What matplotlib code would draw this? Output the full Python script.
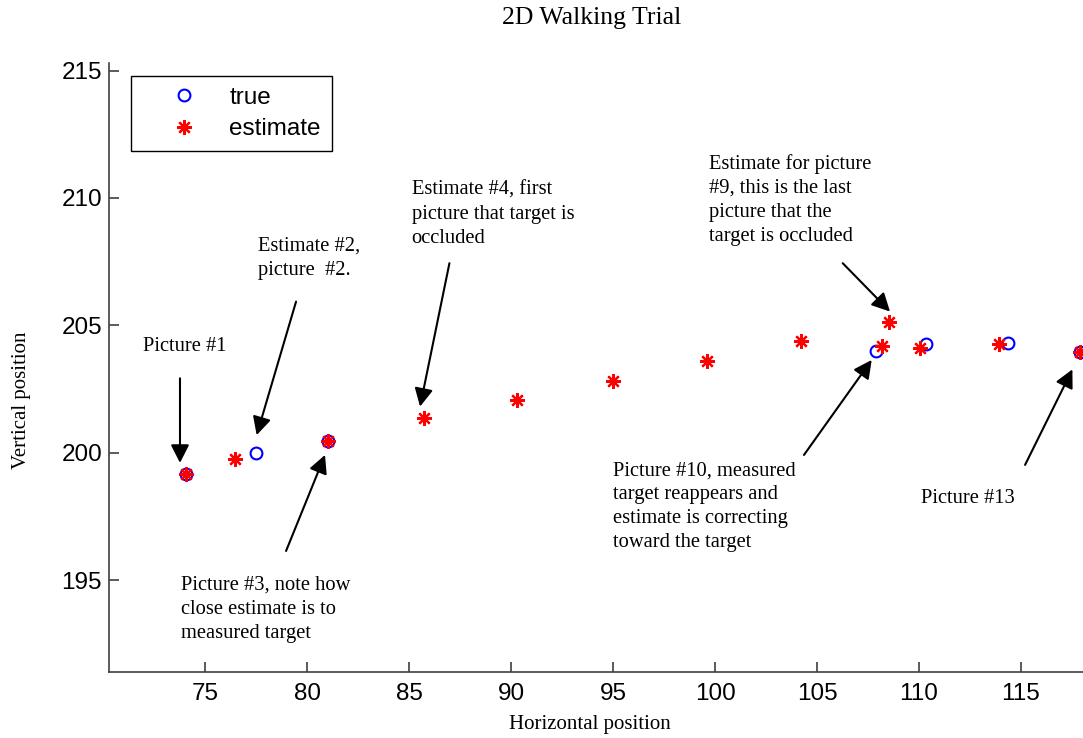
import matplotlib.pyplot as plt
import numpy as np

# measured target (only visible in pictures 1-3 and 10-13)
true_x = np.array([74.05, 77.5, 81.05, 107.9, 110.35, 114.35, 117.9])
true_y = np.array([199.15, 200.0, 200.45, 204.0, 204.25, 204.3, 203.95])

# filter estimate for every picture
est_x = np.array([74.05, 76.45, 81.05, 85.75, 90.3, 95.0, 99.6, 104.2,
                  108.55, 108.2, 110.05, 113.9, 117.9])
est_y = np.array([199.15, 199.75, 200.45, 201.35, 202.05, 202.8, 203.6, 204.4,
                  205.15, 204.2, 204.1, 204.25, 203.95])

xticks = [75, 80, 85, 90, 95, 100, 105, 110, 115]
yticks = [195, 200, 205, 210, 215]

# (text, text position, arrow tail, arrow tip)
notes = [
    ("Picture #1", (71.95, 204.54), (73.77, 202.92), (73.77, 199.60)),
    ("Estimate #2,\npicture  #2.", (77.61, 208.47), (79.46, 205.93), (77.53, 200.69)),
    ("Picture #3, note how\nclose estimate is to\nmeasured target", (73.81, 195.16),
     (78.97, 196.14), (80.88, 199.91)),
    ("Estimate #4, first\npicture that target is\noccluded", (85.13, 210.67),
     (86.98, 207.44), (85.54, 201.81)),
    ("Estimate for picture\n#9, this is the last\npicture that the\ntarget is occluded",
     (99.72, 211.73), (106.26, 207.44), (108.58, 205.54)),
    ("Picture #10, measured\ntarget reappears and\nestimate is correcting\ntoward the target",
     (95.01, 199.67), (104.36, 199.91), (107.68, 203.64)),
    ("Picture #13", (110.08, 198.57), (115.20, 199.52), (117.52, 203.27)),
]

serif = "Liberation Serif"
sans = "Liberation Sans"
spine_col = "#404040"

fig = plt.figure(figsize=(10.83, 7.38), dpi=100)
ax = fig.add_axes([109 / 1083, 66.3 / 738, 974 / 1083, 608.7 / 738])

ax.plot(true_x, true_y, linestyle="none", marker="o", markersize=8.5,
        markerfacecolor="none", markeredgecolor="#0000ff", markeredgewidth=1.5,
        label="true", clip_on=False)
ax.plot(est_x, est_y, linestyle="none", marker=(8, 2, 0), markersize=10.5,
        color="#ff0000", markeredgewidth=1.6, label="estimate", clip_on=False)

ax.set_xlim(70.29, 118.04)
ax.set_ylim(191.4, 215.3)
ax.set_xticks(xticks)
ax.set_yticks(yticks)

for side in ["top", "right"]:
    ax.spines[side].set_visible(False)
for side in ["left", "bottom"]:
    ax.spines[side].set_color(spine_col)
    ax.spines[side].set_linewidth(1.2)

ax.tick_params(axis="both", direction="in", length=7, width=1.2, color=spine_col,
               labelsize=17.5, labelcolor="black")
ax.tick_params(axis="x", pad=8)
ax.tick_params(axis="y", pad=5)
for lbl in ax.get_xticklabels() + ax.get_yticklabels():
    lbl.set_fontfamily(sans)

fig.text(591.7 / 1083, 1 - 18 / 738, "2D Walking Trial", family=serif,
         fontsize=18.5, ha="center", va="center")
fig.text(590 / 1083, 1 - 725 / 738, "Horizontal position", family=serif,
         fontsize=15, ha="center", va="center")
fig.text(22 / 1083, 1 - 400 / 738, "Vertical position", family=serif,
         fontsize=15, ha="center", va="center", rotation=90)

for txt, pos, tail, tip in notes:
    ax.text(pos[0], pos[1], txt, family=serif, fontsize=14.8, ha="left", va="top",
            linespacing=1.35)
    ax.annotate("", xy=tip, xytext=tail,
                arrowprops=dict(arrowstyle="-|>,head_length=0.55,head_width=0.28",
                                mutation_scale=20, color="black", lw=1.5,
                                shrinkA=0, shrinkB=0))

leg = ax.legend(loc="upper left", bbox_to_anchor=(130.7 / 1083, 1 - 75.7 / 738),
                bbox_transform=fig.transFigure, borderaxespad=0, fancybox=False,
                framealpha=1, edgecolor="black", prop={"family": sans, "size": 17.5},
                handlelength=3.5, handletextpad=0.1, borderpad=0.45, labelspacing=0.4)
leg.get_frame().set_linewidth(1.0)

fig.savefig("out.png", dpi=100, facecolor="white")
